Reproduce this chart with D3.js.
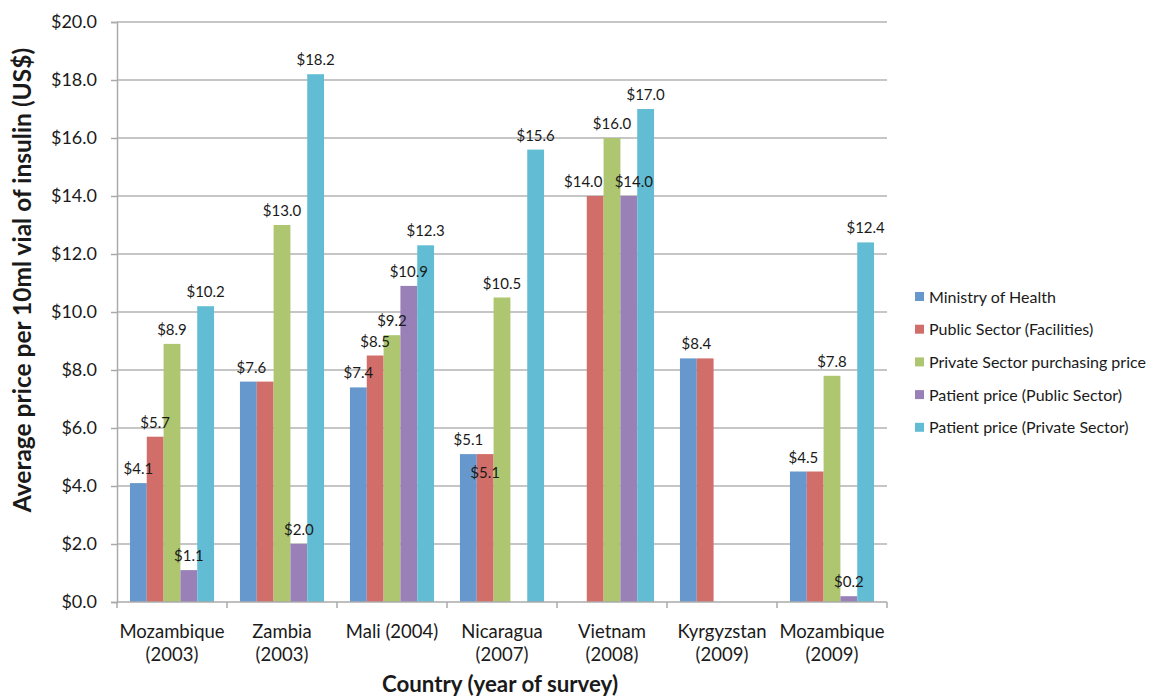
<!DOCTYPE html>
<html>
<head>
<meta charset="utf-8">
<script src="https://cdn.jsdelivr.net/npm/d3@7"></script>
<style>
  body { margin: 0; background: #fff; }
  text { font-family: Lato, "Open Sans", sans-serif; fill: #1a1a1a; }
</style>
</head>
<body>
<div id="chart"></div>
<script>
// data
var categories = ["Mozambique (2003)", "Zambia (2003)", "Mali (2004)", "Nicaragua (2007)", "Vietnam (2008)", "Kyrgyzstan (2009)", "Mozambique (2009)"]
var seriesNames = ["Ministry of Health", "Public Sector (Facilities)", "Private Sector purchasing price", "Patient price (Public Sector)", "Patient price (Private Sector)"]
var ministryOfHealth = [4.1, 7.6, 7.4, 5.1, null, 8.4, 4.5]
var publicFacilities = [5.7, 7.6, 8.5, 5.1, 14.0, 8.4, 4.5]
var privatePurchase = [8.9, 13.0, 9.2, 10.5, 16.0, null, 7.8]
var patientPublic = [1.1, 2.0, 10.9, null, 14.0, null, 0.2]
var patientPrivate = [10.2, 18.2, 12.3, 15.6, 17.0, null, 12.4]
var yTicks = [0, 2, 4, 6, 8, 10, 12, 14, 16, 18, 20]
var colors = ["#6798cd", "#d26e69", "#adc66f", "#9981b7", "#62bdd4"]

var allSeries = [ministryOfHealth, publicFacilities, privatePurchase, patientPublic, patientPrivate]

// data label tweaks where the labels collide (series index|category index)
var labelTweak = {
    "1|1": {hide: true},
    "1|5": {hide: true},
    "1|6": {hide: true},
    "0|1": {dx: 3},
    "0|5": {dx: 8},
    "0|6": {dx: 5},
    "1|3": {dy: 33},
    "1|4": {dx: -12},
    "3|4": {dx: 5}
}

var W = 1149, H = 697
var margin = {top: 22, left: 117, right: W - 887, bottom: H - 602}

var svg = d3.select("#chart").append("svg")
    .attr("width", W).attr("height", H)

var x0 = d3.scaleBand().domain(categories).range([margin.left, W - margin.right]).padding(0)
var x1 = d3.scaleBand().domain(d3.range(seriesNames.length)).range([0, x0.bandwidth()])
    .paddingInner(0).paddingOuter(0.77)
var y = d3.scaleLinear().domain([0, 20]).range([H - margin.bottom, margin.top])

var fmt = function(v) { return "$" + d3.format(".1f")(v) }

// gridlines
svg.append("g")
    .selectAll("line").data(yTicks.slice(1)).enter().append("line")
    .attr("x1", margin.left).attr("x2", W - margin.right)
    .attr("y1", function(d) { return y(d) }).attr("y2", function(d) { return y(d) })
    .attr("stroke", "#b3b3b3").attr("stroke-width", 1.5)

// y axis
var yAxis = svg.append("g")
    .attr("transform", "translate(" + margin.left + ",0)")
    .call(d3.axisLeft(y).tickValues(yTicks).tickFormat(fmt).tickSize(6).tickPadding(14))
yAxis.select(".domain").attr("stroke", "#aaa").attr("stroke-width", 1.5)
yAxis.selectAll(".tick line").attr("stroke", "#aaa").attr("stroke-width", 1.5)
yAxis.selectAll(".tick text").attr("font-size", "18px").attr("fill", "#1a1a1a")
    .style("font-family", "Lato, sans-serif")

// bars
categories.forEach(function(cat, ci) {
    var g = svg.append("g").attr("transform", "translate(" + x0(cat) + ",0)")
    allSeries.forEach(function(vals, si) {
        var v = vals[ci]
        if (v == null) return
        g.append("rect")
            .attr("x", x1(si)).attr("width", x1.bandwidth())
            .attr("y", y(v)).attr("height", y(0) - y(v))
            .attr("fill", colors[si])
    })
})

// x axis line and ticks at category boundaries
var xEnd = W - margin.right
svg.append("line")
    .attr("x1", margin.left).attr("x2", xEnd)
    .attr("y1", y(0)).attr("y2", y(0))
    .attr("stroke", "#aaa").attr("stroke-width", 1.5)
var bounds = categories.map(function(c) { return x0(c) }).concat([xEnd])
svg.append("g").selectAll("line").data(bounds).enter().append("line")
    .attr("x1", function(d) { return d }).attr("x2", function(d) { return d })
    .attr("y1", y(0)).attr("y2", y(0) + 6)
    .attr("stroke", "#aaa").attr("stroke-width", 1.5)

// category labels (two lines)
categories.forEach(function(cat) {
    var m = cat.match(/^(.*?)\s*(\(\d{4}\))$/)
    var lines = (m && m[1].indexOf("Mali") < 0) ? [m[1], m[2]] : [cat]
    var t = svg.append("text")
        .attr("x", x0(cat) + x0.bandwidth() / 2).attr("y", 638)
        .attr("text-anchor", "middle").attr("font-size", "18.5px")
    lines.forEach(function(l, i) {
        t.append("tspan").attr("x", x0(cat) + x0.bandwidth() / 2)
            .attr("dy", i == 0 ? 0 : 23).text(l)
    })
})

// data labels
categories.forEach(function(cat, ci) {
    allSeries.forEach(function(vals, si) {
        var v = vals[ci]
        if (v == null) return
        var tw = labelTweak[si + "|" + ci] || {}
        if (tw.hide) return
        svg.append("text")
            .attr("x", x0(cat) + x1(si) + x1.bandwidth() / 2 + (tw.dx || 0))
            .attr("y", y(v) - 9 + (tw.dy || 0))
            .attr("text-anchor", "middle").attr("font-size", "15px")
            .text(fmt(v))
    })
})

// axis titles
svg.append("text")
    .attr("transform", "translate(31," + 280 + ") rotate(-90)")
    .attr("text-anchor", "middle").attr("font-size", "24.5px").attr("font-weight", "bold")
    .attr("fill", "#000")
    .text("Average price per 10ml vial of insulin (US$)")
svg.append("text")
    .attr("x", 500).attr("y", 692)
    .attr("text-anchor", "middle").attr("font-size", "22.3px").attr("font-weight", "bold")
    .attr("fill", "#000")
    .text("Country (year of survey)")

// legend
var legend = svg.append("g").attr("transform", "translate(915,292)")
seriesNames.forEach(function(name, i) {
    var row = legend.append("g").attr("transform", "translate(0," + (i * 32.7) + ")")
    row.append("rect").attr("x", 0).attr("y", 0).attr("width", 9).attr("height", 9)
        .attr("fill", colors[i])
    row.append("text").attr("x", 14).attr("y", 10.5).attr("font-size", "16px").text(name)
})
</script>
</body>
</html>
